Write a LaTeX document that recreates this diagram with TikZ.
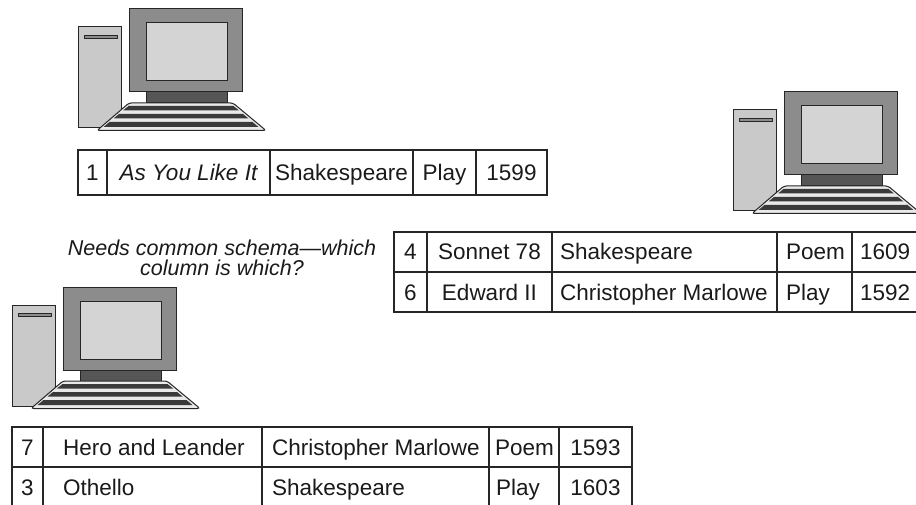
\documentclass[tikz,border=0pt]{standalone}
\usepackage{fontspec}
\setmainfont{Liberation Sans}
\definecolor{linec}{HTML}{262626}
\definecolor{towerc}{HTML}{C9C9C9}
\definecolor{monc}{HTML}{8C8C8C}
\definecolor{scrc}{HTML}{D4D4D4}
\definecolor{neckc}{HTML}{565656}
\definecolor{kbc}{HTML}{E9E9E9}
\definecolor{keyc}{HTML}{3A3A3A}
\definecolor{txtc}{HTML}{1A1A1A}
\newcommand\tabfont{\fontsize{22.5}{27}\selectfont}
\newcommand\capfont{\fontsize{21.5}{24}\selectfont\itshape}
\tikzset{
  part/.style={draw=linec, line width=1pt},
  outerline/.style={draw=linec, line width=2.2pt},
  innerline/.style={draw=linec, line width=1.3pt},
  cell/.style={inner sep=0pt, anchor=base, font=\tabfont, text=txtc},
  cellw/.style={cell, anchor=base west},
  captxt/.style={inner sep=0pt, anchor=base, font=\capfont, text=txtc},
  computer/.pic={
    % tower
    \path[part, fill=towerc] (78,27) rectangle (121,128);
    \path[draw=linec, line width=0.8pt, fill=monc] (84,35) rectangle (117,38);
    % monitor
    \path[part, fill=monc] (129,9) rectangle (242,92);
    \path[part, fill=scrc] (146,23) rectangle (227,81);
    \path[part, fill=neckc] (146,92) rectangle (227,103);
    % keyboard
    \path[part, fill=kbc, rounded corners=2.5pt] (129,103) -- (233,103) -- (266,130.5) -- (97,130.5) -- cycle;
    \path[fill=keyc] (128.5,106) -- (233.5,106) -- (239,110.5) -- (123,110.5) -- cycle;
    \path[fill=keyc] (119,114) -- (243,114) -- (248.5,118.5) -- (113.5,118.5) -- cycle;
    \path[fill=keyc] (109.5,122) -- (252.5,122) -- (258.5,127) -- (103.5,127) -- cycle;
  }
}
\begin{document}
\begin{tikzpicture}[x=1pt, y=-1pt]
\useasboundingbox (0,0) rectangle (916,505);
\clip (0,0) rectangle (916,505);

% computers
\pic at (0,0) {computer};
\pic at (655,83) {computer};
\pic at (-66,278) {computer};

% ---------- table 1 ----------
\draw[innerline] (107,150) -- (107,195) (270,150) -- (270,195)
  (413,150) -- (413,195) (476,150) -- (476,195);
\draw[outerline] (78,150) rectangle (547,195);
\node[cell] (a1) at (92.5,180.5) {1};
\node[cell] (a2) at (188.5,180.5) {\itshape As You Like It};
\node[cell] (a3) at (341.5,180.5) {Shakespeare};
\node[cell] (a4) at (444.5,180.5) {Play};
\node[cell] (a5) at (511.5,180.5) {1599};

% ---------- caption ----------
\node[captxt] (cap1) at (222,256) {Needs common schema—which};
\node[captxt] (cap2) at (222,276) {column is which?};

% ---------- table 2 ----------
\draw[innerline] (394,272) -- (920,272)
  (427,232) -- (427,312) (552,232) -- (552,312)
  (777,232) -- (777,312) (852,232) -- (852,312);
\draw[outerline] (920,232) -- (394,232) -- (394,312) -- (920,312);
\node[cell] (b1) at (410.5,260) {4};
\node[cell] (b2) at (489.5,260) {Sonnet 78};
\node[cellw] (b3) at (560,260) {Shakespeare};
\node[cellw] (b4) at (786,260) {Poem};
\node[cellw] (b5) at (860,260) {1609};
\node[cell] (c1) at (410.5,300) {6};
\node[cell] (c2) at (489.5,300) {Edward II};
\node[cellw] (c3) at (560,300) {Christopher Marlowe};
\node[cellw] (c4) at (786,300) {Play};
\node[cellw] (c5) at (860,300) {1592};

% ---------- table 3 ----------
\draw[innerline] (12,467) -- (632,467)
  (43,427) -- (43,510) (262,427) -- (262,510)
  (489,427) -- (489,510) (559,427) -- (559,510);
\draw[outerline] (12,510) -- (12,427) -- (632,427) -- (632,510);
\node[cell] (d1) at (27.5,455) {7};
\node[cellw] (d2) at (63,455) {Hero and Leander};
\node[cellw] (d3) at (272,455) {Christopher Marlowe};
\node[cellw] (d4) at (495,455) {Poem};
\node[cell] (d5) at (595.5,455) {1593};
\node[cell] (e1) at (27.5,495) {3};
\node[cellw] (e2) at (63,495) {Othello};
\node[cellw] (e3) at (272,495) {Shakespeare};
\node[cellw] (e4) at (496,495) {Play};
\node[cell] (e5) at (595.5,495) {1603};
\end{tikzpicture}
\end{document}
